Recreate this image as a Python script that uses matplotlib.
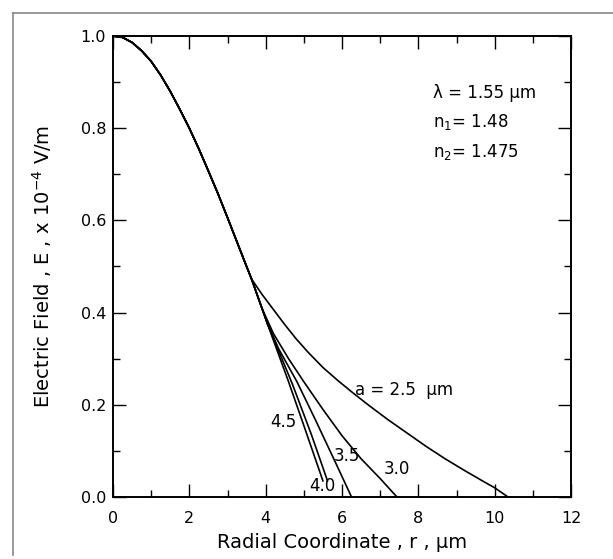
import matplotlib
matplotlib.use("Agg")
import matplotlib.pyplot as plt
from matplotlib.lines import Line2D
from matplotlib.ticker import MultipleLocator

plt.rcParams['font.family'] = ['DejaVu Sans']

# shared part of all mode-field curves
r_common = [0.0, 0.25, 0.5, 0.75, 1.0, 1.25, 1.5, 1.75, 2.0, 2.25, 2.5, 2.75, 3.0, 3.25, 3.5, 3.63]
e_common = [1.0, 0.997, 0.986, 0.968, 0.945, 0.915, 0.880, 0.841, 0.800, 0.755, 0.707, 0.658, 0.606, 0.553, 0.500, 0.473]

# tails for each core radius a (um)
r_25 = [3.9, 4.2, 4.5, 4.8, 5.1, 5.5, 5.9, 6.3, 6.7, 7.2, 7.7, 8.2, 8.7, 9.2, 9.7, 10.0, 10.35]
e_25 = [0.44, 0.407, 0.374, 0.343, 0.315, 0.281, 0.252, 0.225, 0.199, 0.168, 0.139, 0.110, 0.083, 0.058, 0.034, 0.02, 0.0]

r_30 = [3.75, 3.9, 4.2, 4.6, 5.0, 5.5, 6.0, 6.5, 7.0, 7.44]
e_30 = [0.445, 0.41, 0.355, 0.30, 0.25, 0.19, 0.133, 0.083, 0.04, 0.0]

r_35 = [3.75, 3.9, 4.05, 4.35, 4.82, 5.3, 5.8, 6.25]
e_35 = [0.445, 0.41, 0.375, 0.32, 0.25, 0.168, 0.08, 0.0]

r_40 = [3.75, 3.9, 4.05, 4.4, 4.7, 5.2, 5.62]
e_40 = [0.445, 0.41, 0.375, 0.305, 0.245, 0.135, 0.035]

r_45 = [3.75, 3.9, 4.05, 4.3, 4.6, 5.0, 5.5]
e_45 = [0.445, 0.41, 0.375, 0.318, 0.25, 0.155, 0.035]

tails = [(r_25, e_25), (r_30, e_30), (r_35, e_35), (r_40, e_40), (r_45, e_45)]

fig = plt.figure(figsize=(6.13, 5.59), dpi=100)
ax = fig.add_axes([113/613, 62/559, 458/613, 461/559])

for rt, et in tails:
    ax.plot(r_common + rt, e_common + et, color='black', lw=1.2)

ax.set_xlim(0, 12)
ax.set_ylim(0, 1.0)
ax.xaxis.set_major_locator(MultipleLocator(2))
ax.xaxis.set_minor_locator(MultipleLocator(1))
ax.yaxis.set_major_locator(MultipleLocator(0.2))
ax.yaxis.set_minor_locator(MultipleLocator(0.1))
ax.yaxis.set_major_formatter(plt.FormatStrFormatter('%.1f'))
ax.tick_params(which='both', direction='in', top=True, right=True, labelsize=11.5, width=1.0)
ax.tick_params(axis='y', pad=5)
ax.tick_params(axis='x', pad=10)
ax.tick_params(which='major', length=9.5)
ax.tick_params(which='minor', length=5)
for s in ax.spines.values():
    s.set_linewidth(1.4)

ax.set_xlabel('Radial Coordinate , r , μm', fontsize=14, labelpad=5)
ax.set_ylabel('Electric Field , E , x 10$^{-4}$ V/m', fontsize=14, labelpad=19)

# parameter block
ax.text(8.38, 0.876, 'λ = 1.55 μm', fontsize=12, va='center')
ax.text(8.38, 0.813, 'n$_1$= 1.48', fontsize=12, va='center')
ax.text(8.38, 0.748, 'n$_2$= 1.475', fontsize=12, va='center')

# curve labels
ax.text(6.35, 0.232, 'a = 2.5  μm', fontsize=12, va='center')
ax.text(7.44, 0.06, '3.0', fontsize=12, ha='center', va='center')
ax.text(6.13, 0.089, '3.5', fontsize=12, ha='center', va='center')
ax.text(4.46, 0.163, '4.5', fontsize=12, ha='center', va='center')
ax.text(5.48, 0.024, '4.0', fontsize=12, ha='center', va='center')

# scan frame edges
fig.add_artist(Line2D([13/613, 1.0], [1 - 13/559, 1 - 13/559], color='#888888', lw=1.2))
fig.add_artist(Line2D([13/613, 13/613], [4/559, 1 - 13/559], color='#888888', lw=1.2))

fig.savefig('out.png', dpi=100)
